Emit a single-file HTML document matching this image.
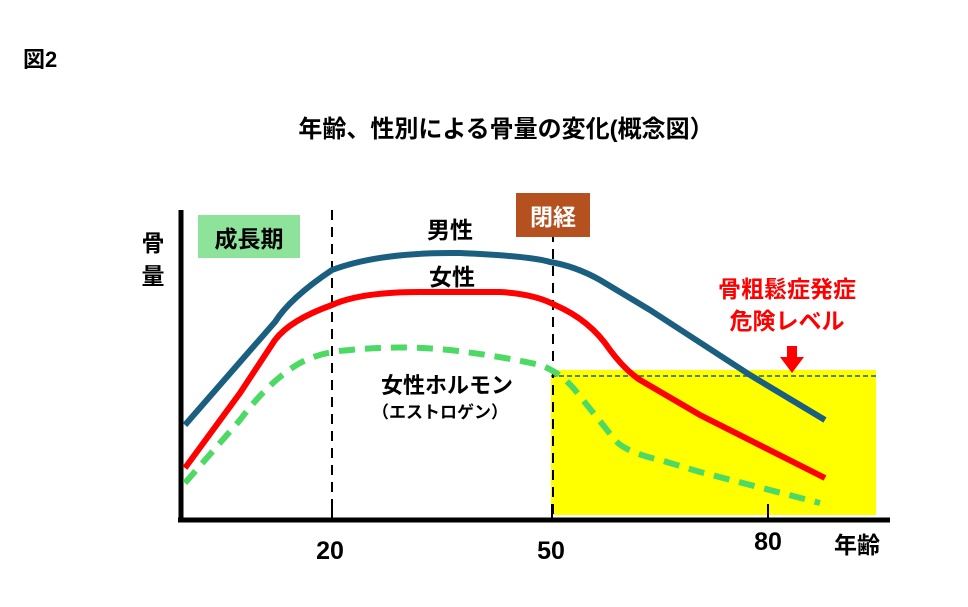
<!DOCTYPE html>
<html><head><meta charset="utf-8"><style>
body{margin:0;background:#fff;}
svg{display:block;font-family:"Liberation Sans","Noto Sans CJK JP",sans-serif;font-weight:bold;}
</style></head><body>
<svg width="968" height="607" viewBox="0 0 968 607">
<text x="23" y="67" font-size="22">図2</text>
<text x="506" y="137" font-size="24" text-anchor="middle">年齢、性別による骨量の変化(概念図）</text>
<rect x="551" y="370" width="325" height="145" fill="#ffff00"/>
<line x1="551" y1="376" x2="878" y2="376" stroke="#1a5e80" stroke-width="1.5" stroke-dasharray="5,3"/>
<line x1="332" y1="210" x2="332" y2="520" stroke="#000" stroke-width="2" stroke-dasharray="10,7"/>
<line x1="553" y1="232" x2="553" y2="520" stroke="#000" stroke-width="2" stroke-dasharray="10,7"/>
<line x1="181" y1="210" x2="181" y2="522" stroke="#000" stroke-width="5"/>
<line x1="178" y1="520" x2="890" y2="520" stroke="#000" stroke-width="5"/>
<line x1="332" y1="504" x2="332" y2="520" stroke="#000" stroke-width="2"/>
<line x1="552" y1="504" x2="552" y2="520" stroke="#000" stroke-width="2"/>
<line x1="768" y1="504" x2="768" y2="520" stroke="#000" stroke-width="2"/>
<path d="M185,425 L240,362 L275,322 Q290,298 332,270 Q380,252 460,253 Q530,256 550,262 Q575,266 600,280 L650,310 L750,375 L825,420" fill="none" stroke="#1a5e80" stroke-width="6"/>
<path d="M185,468 L240,393 L275,340 Q290,320 332,305 Q360,292 420,292 L500,292 Q535,294 555,305 Q590,320 610,350 Q625,370 640,380 L700,415 L825,478" fill="none" stroke="#ff0000" stroke-width="6"/>
<path d="M185,483 L240,420 Q270,380 300,363 Q320,352 350,350 Q400,345 450,350 Q500,356 540,365 Q560,372 575,390 L615,440 Q625,452 660,460 L700,472 L820,503" fill="none" stroke="#4cd964" stroke-width="6" stroke-dasharray="16,10"/>
<rect x="198" y="215" width="102" height="43" fill="#8de39a"/>
<text x="249" y="247" font-size="23" text-anchor="middle">成長期</text>
<rect x="516" y="193" width="74" height="44" fill="#b5501f"/>
<text x="553" y="225" font-size="23" text-anchor="middle" fill="#fff">閉経</text>
<text x="450" y="238" font-size="23" text-anchor="middle">男性</text>
<text x="452" y="285" font-size="23" text-anchor="middle">女性</text>
<text x="447" y="393" font-size="22" text-anchor="middle">女性ホルモン</text>
<text x="440" y="418" font-size="17" text-anchor="middle">（エストロゲン）</text>
<text x="787" y="297" font-size="23" text-anchor="middle" fill="#ff0000">骨粗鬆症発症</text>
<text x="787" y="329" font-size="23" text-anchor="middle" fill="#ff0000">危険レベル</text>
<polygon points="787,346 797,346 797,357 804,357 792,373 780,357 787,357" fill="#ff0000"/>
<text x="153" y="251" font-size="23" text-anchor="middle">骨</text>
<text x="153" y="284" font-size="23" text-anchor="middle">量</text>
<text x="330" y="559" font-size="25" text-anchor="middle">20</text>
<text x="551" y="559" font-size="25" text-anchor="middle">50</text>
<text x="768" y="550" font-size="25" text-anchor="middle">80</text>
<text x="857" y="553" font-size="23" text-anchor="middle">年齢</text>
</svg>
</body></html>
